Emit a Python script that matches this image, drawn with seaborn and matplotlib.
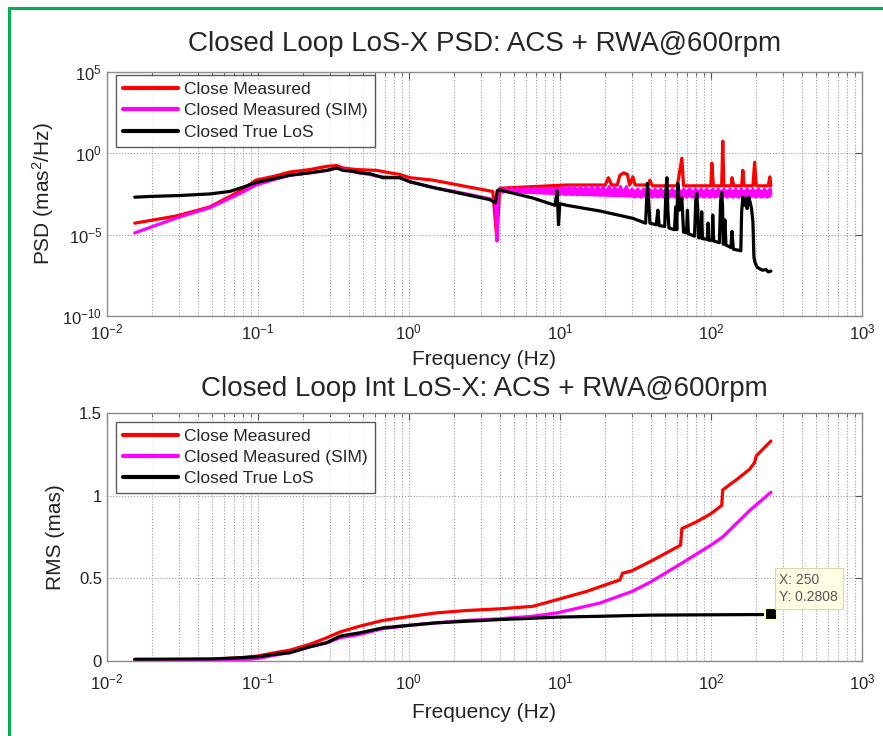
import numpy as np
import pandas as pd
import seaborn as sns
import matplotlib
matplotlib.use("Agg")
import matplotlib.pyplot as plt
from matplotlib.ticker import LogLocator, NullLocator, FixedLocator, FixedFormatter, NullFormatter
from matplotlib.lines import Line2D


# ---- top panel: PSD, values read as log10(mas^2/Hz) ----
red_psd_f = [0.0153, 0.0291, 0.048, 0.079, 0.097, 0.13, 0.163, 0.221, 0.286, 0.333, 0.366,
             0.45, 0.614, 0.75, 0.871, 1.016, 1.44, 2.42, 3.6, 3.83, 4.0, 6.62, 11.1, 18.4,
             20.0, 21.0, 22.0, 24.0, 25.0, 26.5, 28.0, 29.0, 30.5, 31.5, 38.5, 39.5, 41.0,
             60.0, 64.3, 66.0, 100.0, 101.6, 104.0, 118.0, 120.0, 122.0, 137.0, 138.0, 142.0,
             160.0, 163.0, 166.0, 190.0, 195.0, 200.0, 240.0, 246.0, 250.0]
red_psd_log = [-4.3, -3.85, -3.3, -2.25, -1.65, -1.4, -1.15, -1.0, -0.8, -0.75, -0.9,
               -1.0, -1.05, -1.2, -1.3, -1.5, -1.65, -2.05, -2.35, -5.3, -2.15, -2.05, -1.95, -1.95,
               -1.95, -1.5, -1.95, -1.95, -1.35, -1.2, -1.3, -1.95, -1.45, -1.95, -1.95, -1.65, -2.0,
               -2.0, -0.3, -2.0, -2.0, -0.6, -2.0, -2.0, 0.75, -2.0, -2.0, -1.5, -2.0,
               -2.0, -1.05, -2.0, -2.0, -0.55, -2.0, -2.0, -1.45, -2.0]

mag_psd_f = [0.0153, 0.0291, 0.048, 0.079, 0.097, 0.13, 0.163, 0.221, 0.286, 0.333, 0.366,
             0.473, 0.673, 0.871, 1.016, 1.44, 2.42, 3.44, 3.75, 3.83, 3.9,
             4.0, 4.2, 4.4, 4.6, 4.8, 5.0, 5.2, 5.5, 5.7, 6.0, 6.2, 6.5, 6.8, 7.1, 7.4, 7.7,
             8.1, 8.4, 8.8, 9.2, 9.6,
             10.0, 10.5, 11.0, 11.5, 12.0, 12.5, 13.1, 13.7, 14.3, 14.9, 15.6, 16.3, 17.0,
             17.8, 18.6, 19.4, 20.3, 21.2, 22.1, 23.1, 24.2, 25.2, 26.4, 27.6, 28.8,
             30.1, 31.4, 32.8, 34.3, 35.9, 37.5, 39.1, 40.9, 42.7, 44.6, 46.6, 48.7, 50.9,
             53.2, 55.6, 58.1, 60.7, 63.4, 66.3, 69.2, 72.3, 75.6, 79.0, 82.5, 86.2, 90.1,
             94.1, 98.4, 103.0, 107.0, 112.0, 117.0, 122.0, 128.0, 134.0, 140.0, 146.0,
             152.0, 159.0, 166.0, 174.0, 182.0, 190.0, 198.0, 207.0, 217.0, 226.0, 236.0,
             247.0, 250.0]
mag_psd_log = [-4.9, -3.97, -3.35, -2.4, -1.95, -1.6, -1.35, -1.2, -1.05, -0.9, -1.0,
               -1.2, -1.45, -1.5, -1.75, -2.1, -2.5, -2.8, -3.0, -5.4, -2.3,
               -2.15, -2.4, -2.15, -2.4, -2.15, -2.4, -2.15, -2.4, -2.15, -2.4, -2.15, -2.4,
               -2.15, -2.4, -2.15, -2.4, -2.15, -2.4, -2.15, -2.4, -2.15,
               -2.55, -2.05, -2.55, -2.05, -2.55, -2.05, -2.55, -2.05, -2.55, -2.05, -2.55,
               -2.05, -2.55, -2.05, -2.55, -2.05, -2.55, -2.05, -2.55, -2.05, -2.55, -2.05,
               -2.55, -2.05, -2.55,
               -2.2, -2.7, -2.2, -2.7, -2.2, -2.7, -2.2, -2.7, -2.2, -2.7, -2.2, -2.7, -2.2,
               -2.7, -2.2, -2.7, -2.2, -2.7, -2.2, -2.7, -2.2, -2.7, -2.2, -2.7, -2.2, -2.7,
               -2.2, -2.7, -2.2, -2.7, -2.2, -2.7, -2.2, -2.7, -2.2, -2.7, -2.2,
               -2.7, -2.2, -2.7, -2.2, -2.7, -2.2, -2.7, -2.2, -2.7, -2.2, -2.7,
               -2.2, -2.5]
# spread of the noisy SIM band above 4 Hz (edges, log10)
mag_band_f = [4.0, 10.0, 30.0, 250.0]
mag_band_lo = [-2.4, -2.55, -2.7, -2.7]
mag_band_hi = [-2.15, -2.05, -2.2, -2.2]

blk_psd_f = [0.0153, 0.02, 0.03, 0.048, 0.065, 0.079, 0.097, 0.13, 0.163, 0.221, 0.286,
             0.333, 0.366, 0.42, 0.473, 0.55, 0.673, 0.871, 1.016, 1.44, 2.42, 3.44, 3.75,
             3.85, 4.0, 6.62, 9.3, 9.6, 9.8, 10.0, 11.1, 18.4, 30.4, 37.0, 38.0, 38.6, 39.5,
             43.5, 44.6, 45.5, 49.5, 50.5, 51.2, 52.0, 52.8, 57.5, 58.5, 59.5, 60.4, 61.0,
             62.0, 64.3, 66.0, 69.0, 70.0, 71.0, 78.0, 79.5, 80.7, 82.0, 83.0, 86.0, 87.0,
             88.0, 95.0, 96.0, 97.0, 102.0, 103.0, 104.5, 114.0, 116.0, 118.0, 119.5, 121.0,
             124.0, 126.0, 136.0, 138.0, 141.0, 158.0, 160.0, 163.0, 167.0, 170.0, 174.0,
             178.0, 182.0, 186.0, 190.0, 193.0, 196.0, 202.0, 210.0, 220.0, 232.0, 240.0, 250.0]
blk_psd_log = [-2.7, -2.65, -2.6, -2.5, -2.35, -2.1, -1.8, -1.55, -1.35, -1.2, -1.05,
               -0.9, -1.05, -1.1, -1.2, -1.25, -1.5, -1.5, -1.75, -2.1, -2.55, -2.85, -3.05,
               -2.3, -2.25, -2.75, -3.2, -2.3, -4.4, -3.1, -3.2, -3.55, -4.0, -4.3, -1.85, -2.6, -4.3,
               -4.4, -3.5, -4.45, -4.5, -2.2, -1.5, -3.6, -4.6, -4.7, -3.3, -4.7, -1.85, -2.3,
               -3.5, -2.75, -4.85, -4.9, -3.5, -4.95, -5.1, -2.9, -2.45, -3.5, -5.2, -5.2, -3.6,
               -5.25, -5.3, -4.3, -5.35, -5.35, -3.8, -5.4, -5.5, -3.0, -2.4, -3.2, -5.6,
               -4.1, -5.65, -5.8, -4.8, -5.9, -6.0, -3.6, -2.7, -3.2, -2.75, -3.4,
               -2.7, -3.0, -3.4, -4.2, -6.4, -6.7, -7.0, -7.1, -7.2, -7.15, -7.3, -7.25]

# ---- bottom panel: integrated RMS (mas) ----
red_rms_f = [0.0153, 0.05, 0.079, 0.1, 0.13, 0.163, 0.22, 0.286, 0.35, 0.473, 0.673, 1.0,
             1.5, 2.42, 4.0, 6.6, 9.55, 15.0, 20.0, 25.0, 26.0, 30.0, 39.5, 50.0, 63.0,
             64.3, 80.0, 100.0, 118.0, 120.0, 150.0, 181.0, 195.0, 200.0, 250.0]
red_rms = [0.005, 0.01, 0.02, 0.03, 0.05, 0.065, 0.1, 0.14, 0.175, 0.21, 0.245, 0.268,
           0.29, 0.305, 0.315, 0.33, 0.37, 0.42, 0.46, 0.49, 0.53, 0.545, 0.6, 0.65, 0.7,
           0.8, 0.84, 0.89, 0.94, 1.035, 1.1, 1.16, 1.2, 1.24, 1.33]

mag_rms_f = [0.0153, 0.05, 0.079, 0.1, 0.13, 0.163, 0.22, 0.286, 0.35, 0.473, 0.673, 1.0,
             1.5, 2.42, 4.0, 6.6, 9.55, 18.4, 30.0, 39.5, 64.0, 100.0, 120.0, 181.0, 250.0]
mag_rms = [0.003, 0.004, 0.006, 0.015, 0.035, 0.05, 0.085, 0.11, 0.14, 0.16, 0.195, 0.215,
           0.23, 0.245, 0.255, 0.27, 0.29, 0.35, 0.42, 0.475, 0.59, 0.7, 0.75, 0.91, 1.02]

blk_rms_f = [0.0153, 0.05, 0.079, 0.1, 0.13, 0.163, 0.22, 0.286, 0.35, 0.473, 0.673, 1.0,
             1.5, 2.42, 4.0, 6.6, 9.55, 18.4, 40.0, 100.0, 250.0]
blk_rms = [0.01, 0.012, 0.02, 0.025, 0.04, 0.05, 0.085, 0.11, 0.15, 0.17, 0.2, 0.215,
           0.23, 0.24, 0.25, 0.258, 0.265, 0.27, 0.277, 0.279, 0.2808]

tip_x = 250
tip_y = 0.2808

labels = ['Close Measured', 'Closed Measured (SIM)', 'Closed True LoS']
colors = ['#ff0000', '#ff00ff', '#000000']


def style_axes(ax, xlabelpad, xtickpad, leg_anchor):
    ax.set_xscale('log')
    ax.set_xlim(1e-2, 1e3)
    ax.xaxis.set_major_locator(LogLocator(base=10, numticks=10))
    ax.xaxis.set_minor_locator(LogLocator(base=10, subs=np.arange(2, 10), numticks=20))
    ax.xaxis.set_minor_formatter(NullFormatter())
    ax.grid(True, which='major', axis='both', ls=':', lw=0.8, color='#9a9a9a')
    ax.grid(True, which='minor', axis='x', ls=':', lw=0.8, color='#9a9a9a')
    ax.tick_params(which='both', direction='in', top=True, right=True, colors='#555555',
                   labelcolor='#222222', labelsize=12)
    ax.tick_params(which='major', length=5)
    ax.tick_params(which='minor', length=3)
    ax.tick_params(axis='x', which='major', pad=xtickpad)
    for s in ax.spines.values():
        s.set_color('#8c8c8c')
        s.set_linewidth(1.0)
    ax.set_xlabel('Frequency (Hz)', fontsize=15, color='#222222', labelpad=xlabelpad)
    leg = ax.legend(loc='upper left', bbox_to_anchor=leg_anchor, fontsize=12.5,
                    handlelength=3.2, frameon=True, fancybox=False, borderaxespad=0.0,
                    labelspacing=0.35, borderpad=0.4, handletextpad=0.35)
    leg.get_frame().set_edgecolor('#333333')
    leg.get_frame().set_linewidth(1.0)
    for h in leg.get_lines():
        h.set_linewidth(3)


sns.set_style('white')
plt.rcParams['font.family'] = ['Liberation Sans', 'DejaVu Sans']
plt.rcParams['mathtext.fontset'] = 'custom'
plt.rcParams['mathtext.rm'] = 'Liberation Sans'
plt.rcParams['mathtext.it'] = 'Liberation Sans'

fig = plt.figure(figsize=(8.83, 7.36), dpi=100)
ax1 = fig.add_axes([0.121, 0.571, 0.855, 0.331])
ax2 = fig.add_axes([0.121, 0.102, 0.855, 0.337])

psd = [(red_psd_f, red_psd_log), (mag_psd_f, mag_psd_log), (blk_psd_f, blk_psd_log)]
for (f, v), c, lab in zip(psd, colors, labels):
    df = pd.DataFrame({'f': f, 'psd': 10.0 ** np.array(v)})
    sns.lineplot(data=df, x='f', y='psd', ax=ax1, color=c, lw=2.3, label=lab,
                 estimator=None, sort=False)
    if c == '#ff00ff':
        ax1.fill_between(mag_band_f, 10.0 ** np.array(mag_band_lo),
                         10.0 ** np.array(mag_band_hi), color=c, lw=0)

ax1.set_yscale('log')
ax1.set_ylim(1e-10, 1e5)
ax1.yaxis.set_major_locator(FixedLocator([1e-10, 1e-5, 1e0, 1e5]))
ax1.yaxis.set_minor_locator(NullLocator())
style_axes(ax1, 5, 5, (0.012, 0.988))
ax1.set_ylabel('PSD (mas$^2$/Hz)', fontsize=15, color='#222222', labelpad=4)
ax1.set_title('Closed Loop LoS-X PSD: ACS + RWA@600rpm', fontsize=20, pad=15)

rms = [(red_rms_f, red_rms), (mag_rms_f, mag_rms), (blk_rms_f, blk_rms)]
for (f, v), c, lab in zip(rms, colors, labels):
    df = pd.DataFrame({'f': f, 'rms': v})
    sns.lineplot(data=df, x='f', y='rms', ax=ax2, color=c, lw=2.3, label=lab,
                 estimator=None, sort=False)

ax2.set_ylim(0, 1.5)
ax2.yaxis.set_major_locator(FixedLocator([0, 0.5, 1, 1.5]))
ax2.yaxis.set_major_formatter(FixedFormatter(['0', '0.5', '1', '1.5']))
style_axes(ax2, 8, 8, (0.012, 0.964))
ax2.set_ylabel('RMS (mas)', fontsize=15, color='#222222', labelpad=10)
ax2.set_title('Closed Loop Int LoS-X: ACS + RWA@600rpm', fontsize=20, pad=12)

# data tip
ax2.plot([tip_x], [tip_y], marker='s', ms=8, mfc='black', mec='#ffffcc', mew=1.5, zorder=6)
ax2.text(285, 0.345, 'X: %d\nY: %.4f' % (tip_x, tip_y), fontsize=10, color='#555555',
         va='bottom', ha='left', linespacing=1.25, zorder=7,
         bbox=dict(boxstyle='square,pad=0.35', fc='#ffffe4', ec='#d8d8b0', lw=0.8))

# green frame
fig.add_artist(Line2D([0.010, 1.0], [0.989, 0.989], color='#00b050', lw=2.2))
fig.add_artist(Line2D([0.010, 0.010], [0.0, 0.989], color='#00b050', lw=2.2))

fig.savefig('out.png', dpi=100)
